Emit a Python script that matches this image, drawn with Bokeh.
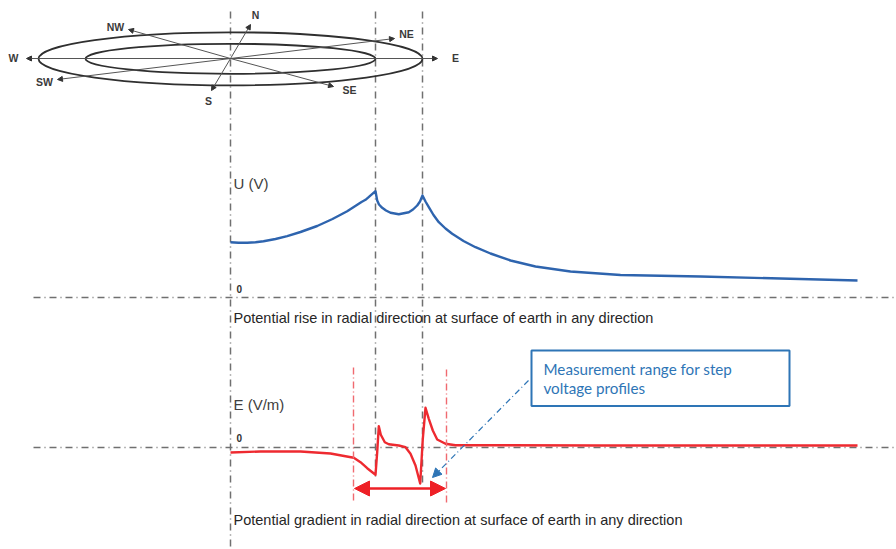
from bokeh.plotting import figure
from bokeh.models import Range1d, Arrow, NormalHead
from bokeh.core.properties import value
from bokeh.embed import file_html
from bokeh.resources import INLINE

# Values are in the reference picture's units
u_x = [230,238,246.7,255,263,275,286.7,300,316.7,332,346.7,361,365,375,376.7,378.5,381.7,385.5,390,398.3,408.3,412.5,416.7,419.5,422,425,428.3,433,438.3,445,451.7,463,475,490,510,535,570,620,700,780,857]
u_y = [241.7,242.3,242.3,241.8,240.7,238.5,235.7,231.5,225.5,218.5,210.7,201.5,199.3,190.7,200,204,207.3,210,212.3,213.7,211.7,209,205,201,195,201,206.7,214.5,221.7,228,233.3,240.5,246.7,253,260,266,271,274.5,276,278,280]
e_x = [230,260,300,330,345,353.3,360,366.7,375,376.7,378.3,380.3,384.3,388.3,398.3,405,410,415,419.7,422.3,425,428.3,432.3,436.7,445,455,600,857]
e_y = [452,451,451,453,455.7,457.3,461.7,467.7,474.3,451.7,425.7,434.3,441.7,443.7,445,446.7,453.3,465,483,438.3,407.3,418.3,430,439,443.3,444.7,445,445]

ring_w = [384, 290]
ring_h = [53, 30]
ring_cx = [230, 230]
ring_cy = [58.3, 58.3]

dir_x = [26, 437, 128, 333, 250, 211, 394, 57]
dir_y = [58, 58, 29, 86, 24, 90, 38, 79]
dir_labels = ["W", "E", "NW", "SE", "N", "S", "NE", "SW"]
dir_lx = [13, 455, 115, 349, 255, 208, 406, 44]
dir_ly = [57, 57, 26, 89, 14, 100, 33, 81]

guide_x = [230, 375, 422]
guide_y0 = [11, 11, 11]
guide_y1 = [546, 476, 482]
zero_y = [297, 447]
zero_x0 = 33
zero_x1 = 896

range_x = [353, 446]
range_y0 = [367, 369]
range_y1 = [501, 503]
span_y = 488

box = (531, 350, 789, 405.5)
box_lines = ["Measurement range for step", "voltage  profiles"]
line_labels = ["Potential rise in radial direction at surface of earth in any direction",
               "Potential gradient in radial direction at surface of earth in any direction"]
axis_labels = ["U (V)", "E (V/m)"]
zero_labels = ["0", "0"]

p = figure(width=896, height=549, output_backend="svg", toolbar_location=None,
           x_range=Range1d(0, 896), y_range=Range1d(549, 0),
           min_border=0, outline_line_color=None, background_fill_color="white")
p.axis.visible = False
p.grid.visible = False

DG = "#707070"
for y in zero_y:
    p.line([zero_x0, zero_x1], [y, y], line_color=DG, line_width=1.5, line_dash="7 4 1 4")
for x, a, b in zip(guide_x, guide_y0, guide_y1):
    p.line([x, x], [a, b], line_color=DG, line_width=1.5, line_dash="7 4 1 4")

p.ellipse(ring_cx, ring_cy, width=ring_w, height=ring_h, fill_color=None, line_color="#2f2f2f", line_width=1.8)

for dx, dy in zip(dir_x, dir_y):
    p.add_layout(Arrow(end=NormalHead(size=5, fill_color="#333333", line_color="#333333"),
                       x_start=230, y_start=58, x_end=dx, y_end=dy,
                       line_color="#555555", line_width=1))
p.text(dir_lx, dir_ly, text=dir_labels, text_font=value("Liberation Sans"), text_font_style="bold",
       text_font_size="10.5px", text_color="#3a3a3a", text_align="center", text_baseline="middle")

p.line(u_x, u_y, line_color="#2e64ae", line_width=2.4, line_join="round")
p.line(e_x, e_y, line_color="#ee2a30", line_width=2.4, line_join="round")

for x, a, b in zip(range_x, range_y0, range_y1):
    p.line([x, x], [a, b], line_color="#f06a70", line_width=1.4, line_dash="7 3 1 3")
p.add_layout(Arrow(start=NormalHead(size=15, fill_color="#ee2026", line_color="#ee2026"),
                   end=NormalHead(size=15, fill_color="#ee2026", line_color="#ee2026"),
                   x_start=range_x[0]+1, y_start=span_y, x_end=range_x[1]-1, y_end=span_y,
                   line_color="#ee2026", line_width=2.6))

p.add_layout(Arrow(end=NormalHead(size=9, fill_color="#2e75b6", line_color="#2e75b6"),
                   x_start=528, y_start=380, x_end=432, y_end=477,
                   line_color="#2e75b6", line_width=1.2, line_dash="6 3 1 3"))
p.quad(left=[box[0]], right=[box[2]], top=[box[1]], bottom=[box[3]], fill_color="white",
       line_color="#2e75b6", line_width=2)
p.text([543, 543], [368, 387], text=box_lines, text_font=value("Lato"), text_font_size="15.2px",
       text_color="#2e75b6", text_baseline="middle")

p.text([233, 233], [183, 404], text=axis_labels, text_font=value("Liberation Sans"), text_font_size="15px",
       text_color="#404040", text_baseline="middle")
p.text([236, 236], [288, 437], text=zero_labels, text_font=value("Liberation Sans"), text_font_style="bold",
       text_font_size="10px", text_color="#303030", text_baseline="middle", text_align="left")
p.text([233, 233], [317, 519], text=line_labels, text_font=value("Liberation Sans"), text_font_size="14.5px",
       text_color="#262626", text_baseline="middle")

open("out.html", "w").write(file_html(p, INLINE))
